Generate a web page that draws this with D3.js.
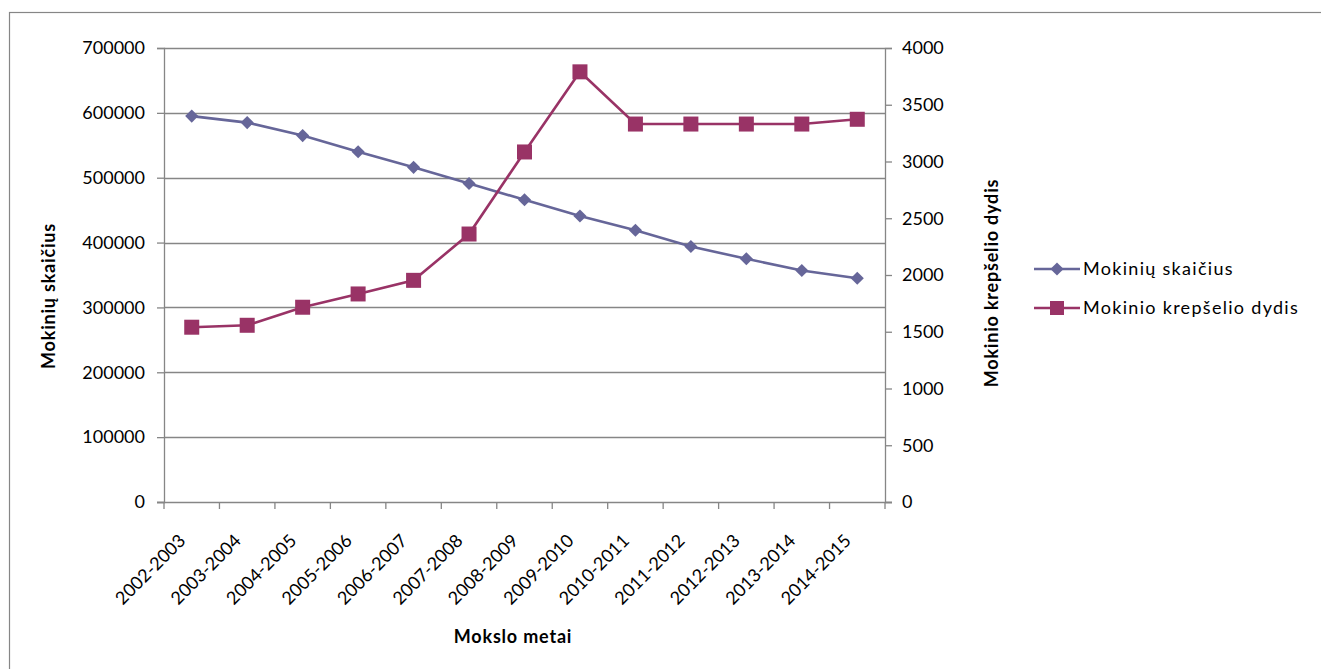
<!DOCTYPE html>
<html>
<head>
<meta charset="utf-8">
<script src="https://cdn.jsdelivr.net/npm/d3@7/dist/d3.min.js"></script>
<style>
  html, body { margin: 0; padding: 0; background: #fff; }
  svg { display: block; font-family: Lato, "Open Sans", sans-serif; }
</style>
</head>
<body>
<svg id="chart" width="1321" height="669"></svg>
<script>
// School years
const years = ["2002-2003","2003-2004","2004-2005","2005-2006","2006-2007","2007-2008",
  "2008-2009","2009-2010","2010-2011","2011-2012","2012-2013","2013-2014","2014-2015"];
// Number of pupils (left axis)
const pupils = [595000,585000,565000,540000,516000,491000,466000,441000,419000,394000,375000,357000,345000];
// Pupil basket size (right axis)
const basket = [1540,1557,1716,1833,1953,2361,3084,3790,3330,3330,3330,3330,3372];
const leftTicks = [0,100000,200000,300000,400000,500000,600000,700000];
const rightTicks = [0,500,1000,1500,2000,2500,3000,3500,4000];

const svg = d3.select("#chart");
const grey = "#868686";
const blue = "#666699";
const plum = "#993366";

// outer chart frame
svg.append("rect").attr("x", 9.5).attr("y", 12.5).attr("width", 1400).attr("height", 700)
  .attr("fill", "none").attr("stroke", grey).attr("stroke-width", 1.2);

const L = 164, R = 885, T = 48, B = 502;
const x = d3.scaleBand().domain(years).range([L, R]);
const yL = d3.scaleLinear().domain([0, 700000]).range([B, T]);
const yR = d3.scaleLinear().domain([0, 4000]).range([B, T]);

// horizontal gridlines
svg.append("g").selectAll("line").data(leftTicks.slice(1)).join("line")
  .attr("x1", L).attr("x2", R)
  .attr("y1", d => Math.round(yL(d)) + 0.5).attr("y2", d => Math.round(yL(d)) + 0.5)
  .attr("stroke", grey).attr("stroke-width", 1.3);

// left axis
const gL = svg.append("g").attr("transform", `translate(${L},0)`)
  .call(d3.axisLeft(yL).tickValues(leftTicks).tickSize(7).tickPadding(12).tickFormat(d3.format("d")));
// right axis
const gR = svg.append("g").attr("transform", `translate(${R},0)`)
  .call(d3.axisRight(yR).tickValues(rightTicks).tickSize(7).tickPadding(10).tickFormat(d3.format("d")));
// bottom axis with ticks at category boundaries
const boundaries = d3.range(years.length + 1).map(i => L + i * x.step());
const gB = svg.append("g");
gB.append("line").attr("x1", L - 7).attr("x2", R + 7).attr("y1", B + 0.5).attr("y2", B + 0.5)
  .attr("stroke", grey).attr("stroke-width", 1.3);
gB.selectAll("line.tk").data(boundaries).join("line").attr("class", "tk")
  .attr("x1", d => d).attr("x2", d => d).attr("y1", B).attr("y2", B + 7)
  .attr("stroke", grey).attr("stroke-width", 1.3);

[gL, gR].forEach(g => {
  g.select(".domain").attr("stroke", grey).attr("stroke-width", 1.3);
  g.selectAll(".tick line").attr("stroke", grey).attr("stroke-width", 1.3);
  g.selectAll(".tick text").attr("font-size", 18).attr("fill", "#000")
    .attr("font-family", "Lato, sans-serif");
});

// rotated category labels
svg.append("g").selectAll("text").data(years).join("text")
  .attr("transform", d => `translate(${x(d) + x.bandwidth() / 2 - 14},${B + 31}) rotate(-45)`)
  .attr("text-anchor", "end").attr("dy", "0.7em")
  .attr("font-size", 18).attr("fill", "#000").text(d => d);

// axis titles
const titleStyle = t => t.attr("text-anchor", "middle").attr("font-size", 18)
  .attr("font-weight", "bold").attr("letter-spacing", 0.8);
svg.append("text").attr("transform", `translate(55,296) rotate(-90)`)
  .call(titleStyle).text("Mokinių skaičius");
svg.append("text").attr("transform", `translate(998,283) rotate(-90)`)
  .call(titleStyle).text("Mokinio krepšelio dydis");
svg.append("text").attr("x", 513).attr("y", 643)
  .call(titleStyle).text("Mokslo metai");

const cx = d => x(d) + x.bandwidth() / 2;
const diamond = d3.symbol().type(d3.symbolDiamond2).size(110);

// pupils line
svg.append("path").datum(pupils)
  .attr("d", d3.line().x((d, i) => cx(years[i])).y(d => yL(d)))
  .attr("fill", "none").attr("stroke", blue).attr("stroke-width", 2.6);
svg.append("g").selectAll("path").data(pupils).join("path")
  .attr("transform", (d, i) => `translate(${cx(years[i])},${yL(d)})`)
  .attr("d", diamond).attr("fill", blue);

// basket line
svg.append("path").datum(basket)
  .attr("d", d3.line().x((d, i) => cx(years[i])).y(d => yR(d)))
  .attr("fill", "none").attr("stroke", plum).attr("stroke-width", 2.6);
svg.append("g").selectAll("rect").data(basket).join("rect")
  .attr("x", (d, i) => cx(years[i]) - 7.5).attr("y", d => yR(d) - 7.5)
  .attr("width", 15).attr("height", 15).attr("fill", plum);

// legend
const legend = [
  { name: "Mokinių skaičius", color: blue, shape: "diamond", y: 269 },
  { name: "Mokinio krepšelio dydis", color: plum, shape: "square", y: 308 }
];
const lg = svg.append("g").selectAll("g").data(legend).join("g")
  .attr("transform", d => `translate(1034,${d.y})`);
lg.append("line").attr("x1", 0).attr("x2", 46).attr("stroke", d => d.color).attr("stroke-width", 2.6);
lg.filter(d => d.shape === "diamond").append("path")
  .attr("transform", "translate(23,0)").attr("d", diamond).attr("fill", d => d.color);
lg.filter(d => d.shape === "square").append("rect")
  .attr("x", 16).attr("y", -7).attr("width", 14).attr("height", 14).attr("fill", d => d.color);
lg.append("text").attr("x", 49).attr("dy", "0.35em").attr("font-size", 18)
  .attr("letter-spacing", 1.3).text(d => d.name);
</script>
</body>
</html>
